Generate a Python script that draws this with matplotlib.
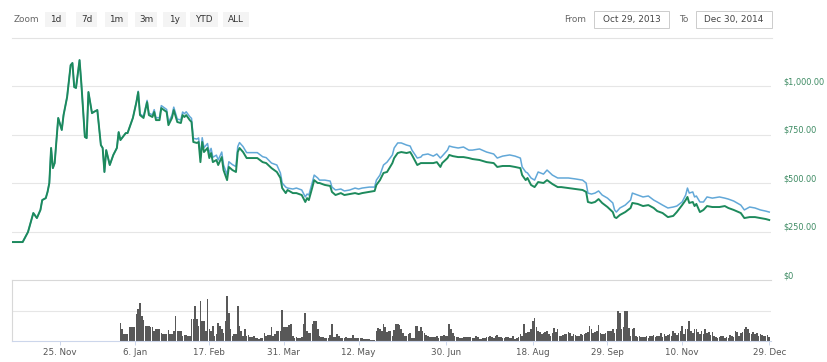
import pandas as pd
import numpy as np
import matplotlib
matplotlib.use('Agg')
import matplotlib.pyplot as plt
import matplotlib.transforms as mtransforms
from matplotlib.patches import Rectangle
from matplotlib.lines import Line2D

# ---- data ----
start = pd.Timestamp('2013-10-29')

# day offsets from start for the two price series
price_days = [0, 6, 9, 12, 14, 16, 17, 19, 20, 21,
              22, 23, 24, 26, 28, 29, 31, 33, 34, 35,
              36, 38, 39, 41, 42, 43, 45, 46, 48, 50,
              51, 52, 53, 55, 57, 59, 60, 61, 64, 65,
              68, 70, 71, 72, 74, 76, 77, 79, 80, 81,
              83, 84, 87, 88, 90, 91, 93, 95, 96, 97,
              98, 100, 101, 102, 104, 105, 106, 107, 108, 110,
              111, 112, 113, 115, 116, 118, 119, 121, 122, 124,
              126, 127, 128, 130, 132, 134, 138, 141, 143, 146,
              149, 151, 152, 154, 155, 158, 160, 163, 165, 166,
              167, 169, 170, 172, 173, 176, 179, 180, 182, 185,
              187, 190, 193, 195, 197, 201, 204, 205, 207, 209,
              211, 214, 215, 217, 219, 222, 224, 225, 228, 230,
              231, 234, 237, 239, 241, 242, 245, 246, 248, 251,
              254, 257, 259, 263, 267, 271, 273, 276, 280, 283,
              286, 287, 289, 290, 292, 294, 296, 299, 301, 304,
              307, 309, 313, 317, 321, 323, 324, 326, 328, 330,
              332, 335, 338, 339, 340, 342, 345, 348, 349, 352,
              355, 358, 361, 363, 366, 369, 372, 374, 377, 379,
              380, 381, 383, 384, 385, 387, 389, 391, 394, 398,
              401, 403, 406, 410, 412, 415, 418, 421, 424, 426]

price_green = [196, 196, 248, 346, 320, 362, 413, 423, 455, 501,
               682, 578, 604, 837, 775, 852, 945, 1110, 1121, 997,
               992, 1136, 1017, 739, 733, 971, 862, 868, 878, 697,
               682, 558, 671, 594, 646, 682, 764, 723, 759, 759,
               837, 919, 971, 852, 837, 919, 852, 842, 868, 826,
               826, 888, 868, 800, 837, 878, 816, 811, 852, 842,
               852, 826, 816, 713, 708, 713, 609, 713, 661, 682,
               630, 656, 609, 620, 594, 635, 568, 516, 584, 568,
               558, 661, 682, 661, 630, 630, 630, 609, 604, 578,
               558, 527, 475, 449, 465, 449, 449, 439, 403, 423,
               413, 480, 516, 501, 501, 491, 486, 455, 439, 449,
               439, 444, 449, 444, 449, 455, 460, 491, 516, 553,
               558, 604, 630, 656, 661, 656, 661, 646, 594, 604,
               604, 604, 604, 609, 584, 604, 630, 646, 640, 635,
               635, 630, 625, 620, 609, 604, 584, 589, 589, 584,
               578, 542, 516, 527, 491, 480, 506, 501, 516, 496,
               480, 480, 475, 470, 465, 455, 403, 398, 403, 418,
               398, 377, 351, 325, 320, 336, 351, 372, 398, 393,
               382, 387, 372, 356, 346, 325, 331, 351, 387, 413,
               429, 398, 403, 382, 393, 351, 362, 382, 377, 377,
               382, 372, 362, 346, 320, 325, 325, 320, 315, 310]

price_blue = [196, 196, 248, 346, 320, 362, 413, 423, 455, 501,
              682, 578, 604, 837, 775, 852, 945, 1110, 1121, 997,
              992, 1136, 1017, 739, 733, 971, 862, 868, 878, 697,
              682, 558, 671, 594, 646, 682, 764, 723, 759, 759,
              837, 922, 975, 858, 845, 928, 862, 853, 880, 838,
              839, 901, 881, 814, 851, 893, 831, 827, 868, 859,
              869, 844, 835, 732, 728, 734, 631, 735, 684, 705,
              654, 680, 634, 645, 620, 661, 595, 543, 611, 596,
              586, 689, 710, 689, 658, 658, 658, 637, 632, 604,
              594, 553, 501, 480, 475, 470, 475, 465, 429, 444,
              439, 506, 542, 527, 516, 516, 511, 480, 465, 470,
              460, 465, 475, 470, 475, 480, 480, 516, 542, 594,
              609, 646, 682, 708, 708, 697, 692, 671, 630, 635,
              646, 651, 640, 651, 630, 640, 671, 692, 687, 682,
              687, 671, 671, 677, 661, 651, 630, 640, 646, 640,
              630, 584, 558, 553, 527, 516, 558, 547, 568, 542,
              527, 527, 527, 522, 516, 501, 449, 444, 449, 460,
              439, 423, 398, 362, 351, 372, 387, 413, 449, 439,
              429, 434, 413, 403, 387, 372, 377, 382, 403, 439,
              475, 449, 455, 429, 434, 403, 403, 429, 423, 429,
              423, 418, 408, 387, 362, 377, 372, 362, 356, 351]

# daily volume from 2013-12-29 (day 61) to 2014-12-29 (day 426)
volume_first_day = 61
volume = [18, 12, 7, 7, 7, 14, 14, 14, 14, 27,
          32, 38, 25, 21, 15, 15, 15, 14, 14, 10,
          12, 12, 12, 8, 7, 7, 7, 11, 7, 7,
          10, 25, 10, 10, 10, 5, 6, 6, 5, 5,
          22, 22, 35, 22, 15, 40, 20, 20, 10, 42,
          12, 10, 15, 5, 7, 18, 15, 12, 8, 20,
          45, 28, 12, 5, 7, 7, 35, 15, 10, 5,
          12, 5, 6, 4, 4, 5, 3, 3, 2, 3,
          3, 8, 5, 6, 6, 14, 5, 7, 10, 10,
          10, 31, 14, 14, 14, 16, 17, 5, 3, 4,
          3, 3, 4, 17, 28, 10, 8, 8, 17, 20,
          20, 12, 5, 4, 4, 3, 3, 3, 6, 17,
          4, 4, 7, 5, 3, 3, 3, 4, 3, 3,
          3, 6, 3, 3, 3, 3, 3, 2, 2, 2,
          2, 1, 1, 1, 10, 13, 12, 10, 17, 14,
          9, 10, 10, 5, 11, 17, 17, 16, 12, 8,
          5, 5, 7, 8, 3, 3, 15, 15, 10, 14,
          10, 8, 6, 5, 4, 4, 4, 4, 5, 3,
          5, 5, 6, 5, 5, 17, 12, 8, 5, 4,
          4, 3, 3, 4, 4, 4, 4, 4, 3, 3,
          5, 4, 2, 2, 3, 3, 4, 4, 5, 4,
          3, 5, 6, 4, 4, 3, 3, 4, 4, 3,
          3, 5, 2, 3, 4, 7, 5, 17, 8, 9,
          9, 12, 20, 23, 14, 10, 9, 7, 8, 9,
          10, 7, 5, 8, 13, 9, 12, 5, 5, 6,
          7, 7, 9, 8, 5, 7, 6, 5, 5, 7,
          6, 7, 8, 9, 15, 12, 8, 9, 10, 16,
          8, 7, 7, 8, 10, 10, 10, 12, 8, 12,
          30, 28, 12, 14, 30, 30, 13, 5, 12, 13,
          5, 4, 5, 4, 4, 4, 5, 3, 5, 5,
          6, 4, 5, 5, 8, 4, 7, 5, 6, 7,
          5, 10, 8, 6, 8, 10, 15, 7, 12, 12,
          20, 10, 8, 12, 12, 9, 7, 10, 7, 12,
          8, 9, 6, 9, 5, 4, 3, 4, 5, 5,
          3, 4, 3, 6, 5, 4, 10, 9, 5, 8,
          9, 12, 14, 12, 8, 7, 9, 7, 8, 5,
          7, 6, 5, 5, 6, 4]

tick_dates = ['2013-11-25', '2014-01-06', '2014-02-17', '2014-03-31', '2014-05-12',
              '2014-06-30', '2014-08-18', '2014-09-29', '2014-11-10', '2014-12-29']
price_ticks = [0, 250, 500, 750, 1000]
price_labels = ['$0', '$250.00', '$500.00', '$750.00', '$1,000.00']
zoom_buttons = ['1d', '7d', '1m', '3m', '1y', 'YTD', 'ALL']
range_from = 'Oct 29, 2013'
range_to = 'Dec 30, 2014'

GREEN = '#1d8a5c'
BLUE = '#62a8d8'
GRID = '#e6e6e6'
W, H = 827, 362


def box(l, t, r, b):
    return [l / W, 1 - b / H, (r - l) / W, (b - t) / H]


def fx(x):
    return x / W


def fy(y):
    return 1 - y / H


pdates = start + pd.to_timedelta(price_days, unit='D')
vdates = start + pd.to_timedelta(np.arange(volume_first_day, volume_first_day + len(volume)), unit='D')
x0, x1 = start, start + pd.Timedelta(days=427)

fig = plt.figure(figsize=(W / 100, H / 100), dpi=100)
fig.patch.set_facecolor('white')

# price pane
ax = fig.add_axes(box(12, 45, 771, 280))
ax.set_xlim(x0, x1)
ax.set_ylim(0, 1214)
for s in ax.spines.values():
    s.set_visible(False)
ax.set_xticks([])
ax.set_yticks([])
for v in price_ticks[1:]:
    ax.axhline(v, color=GRID, lw=0.8, zorder=0)
ax.plot(pdates, price_blue, color=BLUE, lw=1.1, zorder=2)
ax.plot(pdates, price_green, color=GREEN, lw=1.4, zorder=3)

lab_tr = mtransforms.offset_copy(ax.get_yaxis_transform(), fig=fig, x=12, y=4.5, units='dots')
for v, t in zip(price_ticks, price_labels):
    ax.text(1.0, v, t, transform=lab_tr, ha='left', va='center',
            color='#3c8a62', fontsize=5.9, clip_on=False)

# volume pane
axv = fig.add_axes(box(12, 280, 771, 341))
axv.set_xlim(x0, x1)
axv.set_ylim(0, 61)
axv.bar(vdates, volume, width=0.9, color='#585858', align='center', zorder=2)
axv.axhline(30, color=GRID, lw=0.8, zorder=0)
axv.spines['right'].set_visible(False)
axv.spines['top'].set_color('#d8d8d8')
axv.spines['left'].set_color('#d8d8d8')
axv.spines['bottom'].set_color('#ccd6eb')
for s in axv.spines.values():
    s.set_linewidth(0.8)
axv.set_yticks([])
tk = pd.to_datetime(tick_dates)
axv.set_xticks(tk)
axv.set_xticklabels([f"{d.day}. {d.strftime('%b')}" for d in tk])
axv.tick_params(axis='x', length=3, width=0.7, color='#ccd6eb', pad=2,
                labelsize=6.3, labelcolor='#555555')

# header: zoom buttons
fig.text(fx(14), fy(19), 'Zoom', ha='left', va='center', fontsize=6.4, color='#666666')
btn_x = [(45, 66), (76, 97), (105, 128), (135, 157), (163, 186), (190, 218), (223, 249)]
for (l, r), t in zip(btn_x, zoom_buttons):
    fig.patches.append(Rectangle((fx(l), fy(27)), fx(r - l), (27 - 12) / H,
                                 transform=fig.transFigure, facecolor='#f4f4f4',
                                 edgecolor='none'))
    fig.text(fx((l + r) / 2), fy(19), t, ha='center', va='center', fontsize=6.4, color='#333333')

# header: date range inputs
fig.text(fx(575), fy(19), 'From', ha='center', va='center', fontsize=6.4, color='#666666')
fig.text(fx(684), fy(19), 'To', ha='center', va='center', fontsize=6.4, color='#666666')
for (l, r), t in [((594, 669), range_from), ((696, 772), range_to)]:
    fig.patches.append(Rectangle((fx(l), fy(28)), fx(r - l), (28 - 11) / H,
                                 transform=fig.transFigure, facecolor='white',
                                 edgecolor='#cccccc', lw=0.7))
    fig.text(fx((l + r) / 2), fy(19.5), t, ha='center', va='center', fontsize=6.4, color='#444444')

fig.lines.append(Line2D([fx(12), fx(772)], [fy(37.5), fy(37.5)], transform=fig.transFigure,
                        color='#e3e3e3', lw=0.8))

fig.savefig('out.png', dpi=100, facecolor='white')
